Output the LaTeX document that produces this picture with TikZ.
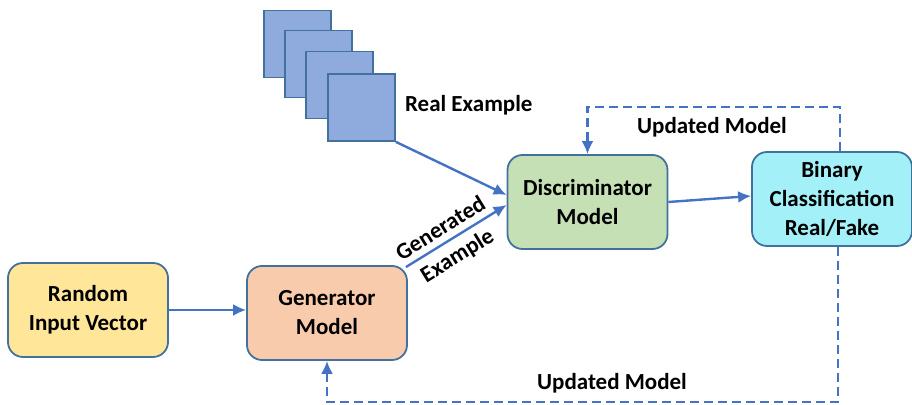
\documentclass[tikz,border=0pt]{standalone}
\usepackage{fontspec}
\setmainfont{Carlito}
\usepackage{tikz}
\usetikzlibrary{arrows.meta}
\usepackage{xcolor}
\definecolor{edgeblue}{HTML}{41719C}
\definecolor{arrowblue}{HTML}{4472C4}
\definecolor{randfill}{HTML}{FFE699}
\definecolor{genfill}{HTML}{F8CBAD}
\definecolor{discfill}{HTML}{C5E0B4}
\definecolor{binfill}{HTML}{A3F0F9}
\definecolor{sqfill}{HTML}{8FAADC}
\begin{document}
\begin{tikzpicture}[x=0.5pt,y=-0.5pt,
    every node/.style={font=\fontsize{11.5}{14.5}\selectfont\bfseries},
    block/.style={draw=edgeblue,line width=0.9pt,rounded corners=7.5pt,
      minimum width=80pt,minimum height=47pt,align=center,inner sep=0pt},
    sample/.style={draw=edgeblue,line width=0.9pt,fill=sqfill,
      minimum size=33.5pt,inner sep=0pt},
    flow/.style={draw=arrowblue,line width=1.2pt,-{Latex[length=6.5pt,width=6pt]}},
    feedback/.style={flow,dash pattern=on 4.5pt off 2.5pt}]
    \useasboundingbox (0,0) rectangle (912,405);
    %% boxes
    \node[block,fill=randfill] (rand) at (88,310) {Random\\Input Vector};
    \node[block,fill=genfill] (gen) at (327,313) {Generator\\Model};
    \node[block,fill=discfill] (disc) at (587.5,202) {Discriminator\\Model};
    \node[block,fill=binfill] (bin) at (832,199) {Binary\\Classification\\Real/Fake};
    %% stack of real samples
    \node[sample] (s1) at (297.5,44) {};
    \node[sample] (s2) at (318.5,64) {};
    \node[sample] (s3) at (339.5,85) {};
    \node[sample] (s4) at (361.5,107.5) {};
    \node[anchor=west] (real) at (398,105) {Real Example};
    %% arrows
    \draw[flow] (rand) -- (gen.west |- rand);
    \draw[flow] (s4.south east) -- ([yshift=3.5pt]disc.west);
    \draw[flow] ([xshift=-1pt,yshift=-1pt]gen.north east) -- ([yshift=-1.5pt]disc.west)
      node[pos=.42,sloped,above,inner sep=3pt] {Generated}
      node[pos=.42,sloped,below,inner sep=3.5pt] {Example};
    \draw[flow] (disc.east) -- ([yshift=1.5pt]bin.west);
    %% updates
    \coordinate (tr) at (840,107);
    \coordinate (tl) at (587.5,107);
    \draw[feedback] (bin.north -| tr) -- (tr) -- (tl) -- (disc.north);
    \node (updtop) at (712,127) {Updated Model};
    \coordinate (br) at (838,402);
    \coordinate (bl) at (327,402);
    \draw[feedback] (bin.south -| br) -- (br) -- (bl) -- (gen.south);
    \node (updbot) at (612,383) {Updated Model};
\end{tikzpicture}
\end{document}
